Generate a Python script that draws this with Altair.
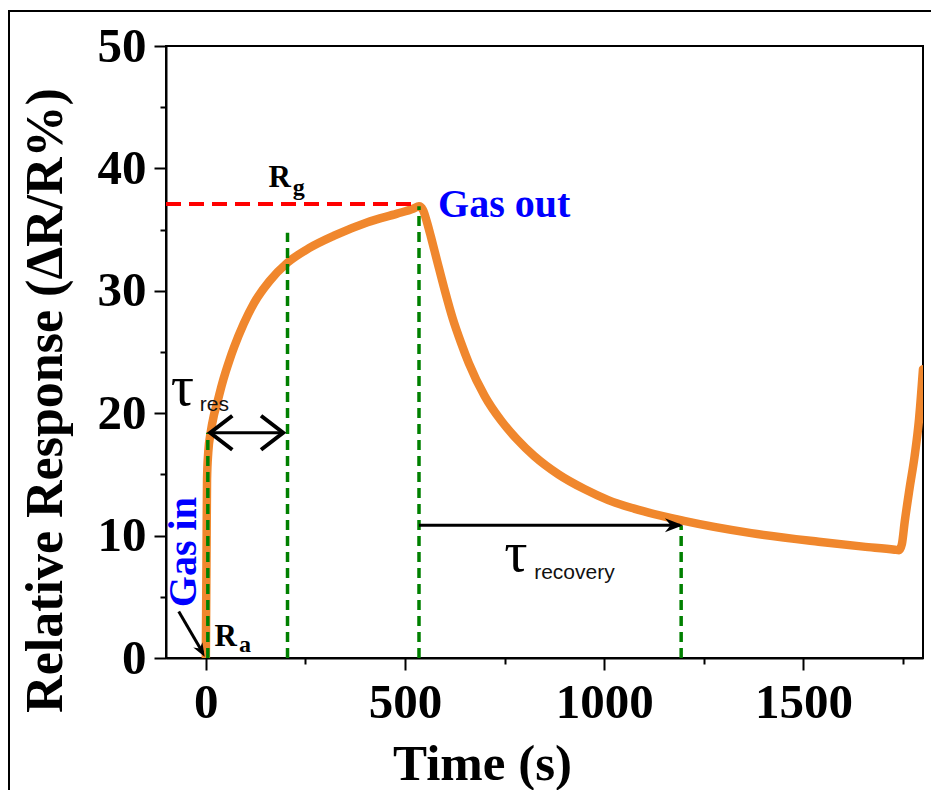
import altair as alt
import pandas as pd

# ---- curve ----
time_s = [0, 1, 2, 3, 6, 12, 20, 29, 40, 50, 60, 71, 95, 121, 160, 205, 260, 322, 406, 480, 520, 535,
          545, 555, 565, 580, 600, 620, 640, 660, 700, 741, 780, 824, 885, 950, 1010, 1075, 1200,
          1369, 1538, 1650, 1729, 1740, 1747, 1754, 1766, 1779, 1790, 1800]
response = [0, 5, 10, 14.6, 16.8, 18.4, 19.8, 20.9, 22.3, 23.4, 24.4, 25.4, 27.3, 29.0, 30.8, 32.3,
            33.5, 34.5, 35.6, 36.3, 36.7, 36.9,
            36.6, 35.6, 34.4, 32.5, 30.0, 27.7, 25.8, 24.1, 21.4, 19.4, 17.9, 16.5, 15.0, 13.8, 12.9,
            12.2, 11.2, 10.2, 9.5, 9.1, 8.85, 8.8, 9.3, 11.1, 13.8, 16.5, 19.5, 23.6]

# ---- guide lines ----
green_x = [5, 205, 535, 1193]
green_top = [18.4, 34.75, 36.9, 10.8]
red_x = [-100]
red_x2 = [535]
red_y = [37.1]

# ---- arrows ----
arrow_x = [12, 535, -68]
arrow_x2 = [193, 1190, -8]
arrow_y = [18.4, 10.85, 3.8]
arrow_y2 = [18.4, 10.85, 0.45]
chev_left_x, chev_right_x, chev_y = [11], [194], [18.4]
head_x = [1198, -3]
head_y = [10.85, 0.1]
head_angle = [0, 60]
head_size = [196, 110]

# ---- axis ticks ----
x_ticks = [0, 250, 500, 750, 1000, 1250, 1500, 1750]
y_ticks = [0, 5, 10, 15, 20, 25, 30, 35, 40, 45, 50]

SERIF = "Liberation Serif"
SANS = "Liberation Sans"

xs = alt.Scale(domain=[-100, 1800], nice=False, zero=False)
ys = alt.Scale(domain=[0, 50], nice=False, zero=False)

x_axis = alt.Axis(
    values=x_ticks, format="d",
    labelExpr="datum.value % 500 == 0 ? datum.label : ''",
    tickSize={"condition": {"test": "datum.value % 500 != 0", "value": 6}, "value": 12},
    labelPadding=8, title="Time (s)", titleX=316, titleY=121, titleFontSize=51,
    titleAlign="center", titleBaseline="alphabetic",
)
y_axis = alt.Axis(
    values=y_ticks, format="d",
    labelExpr="datum.value % 10 == 0 ? datum.label : ''",
    tickSize={"condition": {"test": "datum.value % 10 != 0", "value": 6}, "value": 12},
    labelPadding=8, title="Relative Response (ΔR/R%)", titleX=-121, titleY=354,
    titleAngle=270, titleAlign="center", titleBaseline="middle",
)

X = lambda f: alt.X(f, type="quantitative", scale=xs, axis=x_axis)
Y = lambda f: alt.Y(f, type="quantitative", scale=ys, axis=y_axis)

curve = alt.Chart(pd.DataFrame({"t": time_s, "r": response})).mark_line(
    color="#F0872D", strokeWidth=8.5, interpolate="monotone", clip=True, strokeCap="round"
).encode(x=X("t"), y=Y("r"))

green = alt.Chart(pd.DataFrame({"t": green_x, "r": [0] * len(green_x), "r2": green_top})).mark_rule(
    color="#008000", strokeWidth=3.5, strokeDash=[10, 6]
).encode(x=X("t"), y=Y("r"), y2="r2")

red = alt.Chart(pd.DataFrame({"t": red_x, "t2": red_x2, "r": red_y})).mark_rule(
    color="#FF0000", strokeWidth=4, strokeDash=[15, 8]
).encode(x=X("t"), x2="t2", y=Y("r"))

arrows = alt.Chart(pd.DataFrame({"t": arrow_x, "t2": arrow_x2, "r": arrow_y, "r2": arrow_y2})).mark_rule(
    color="black", strokeWidth=3
).encode(x=X("t"), x2="t2", y=Y("r"), y2="r2")

chev_l = alt.Chart(pd.DataFrame({"t": chev_left_x, "r": chev_y})).mark_point(
    shape="M1.3,-1L0,0L1.3,1", filled=False, color="black", strokeWidth=4, size=1156, opacity=1
).encode(x=X("t"), y=Y("r"))
chev_r = alt.Chart(pd.DataFrame({"t": chev_right_x, "r": chev_y})).mark_point(
    shape="M-1.3,-1L0,0L-1.3,1", filled=False, color="black", strokeWidth=4, size=1156, opacity=1
).encode(x=X("t"), y=Y("r"))

heads = alt.Chart(pd.DataFrame({"t": head_x, "r": head_y, "a": head_angle, "s": head_size})).mark_point(
    shape="M0,0L-2.6,-1L-1.8,0L-2.6,1Z", filled=True, color="black", opacity=1
).encode(x=X("t"), y=Y("r"), angle=alt.Angle("a:Q", scale=None), size=alt.Size("s:Q", scale=None))


def label(texts, tx, ty, **kw):
    return alt.Chart(pd.DataFrame({"t": tx, "r": ty, "txt": texts})).mark_text(**kw).encode(
        x=X("t"), y=Y("r"), text="txt:N")


gas_out = label(["Gas out"], [583], [36.05], font=SERIF, fontWeight="bold", fontSize=40,
                color="#0000FF", align="left", baseline="alphabetic")
gas_in = label(["Gas in"], [-55.3], [8.65], font=SERIF, fontWeight="bold", fontSize=40,
               color="#0000FF", align="center", baseline="middle", angle=270)
r_big = label(["R", "R"], [157, 22], [38.5, 0.98], font=SERIF, fontWeight="bold", fontSize=31,
              color="black", align="left", baseline="alphabetic")
r_sub = label(["g", "a"], [218, 83], [37.85, 0.49], font=SERIF, fontWeight="bold", fontSize=24,
              color="black", align="left", baseline="alphabetic")
tau = label(["τ", "τ"], [-88, 749], [20.7, 7.1], font=SERIF, fontSize=58,
            color="black", align="left", baseline="alphabetic")
tau_sub = label(["res", "recovery"], [-15, 824], [20.15, 6.44], font=SANS, fontSize=21,
                color="#111111", align="left", baseline="alphabetic")

frame_left = alt.Chart(pd.DataFrame({"k": [0]})).mark_rule(color="black", strokeWidth=2).encode(
    x=alt.value(-157), y=alt.value(-35), y2=alt.value(800))
frame_top = alt.Chart(pd.DataFrame({"k": [0]})).mark_rule(color="black", strokeWidth=2).encode(
    x=alt.value(-158), x2=alt.value(900), y=alt.value(-35))

chart = alt.layer(
    curve, green, red, arrows, chev_l, chev_r, heads,
    gas_out, gas_in, r_big, r_sub, tau, tau_sub, frame_left, frame_top,
).properties(
    width=757, height=612,
    autosize=alt.AutoSizeParams(type="none"),
    padding={"left": 158, "top": 38, "right": 8, "bottom": 132},
    background="white",
).configure_view(
    stroke="black", strokeWidth=2
).configure_axis(
    grid=False, domainColor="black", domainWidth=2, tickColor="black", tickWidth=2,
    labelFont=SERIF, labelFontWeight="bold", labelFontSize=49, labelColor="black",
    titleFont=SERIF, titleFontWeight="bold", titleFontSize=52, titleColor="black",
)

chart.save("out.html", embed_options={"renderer": "svg", "actions": False})
